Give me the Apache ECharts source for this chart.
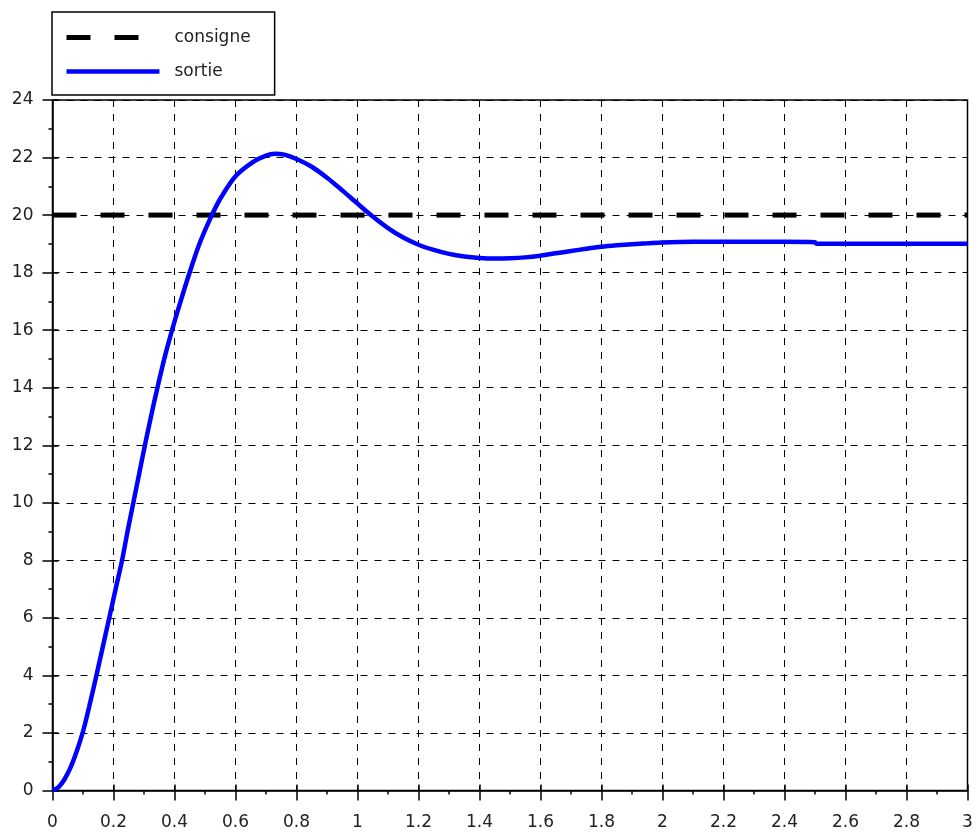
<!DOCTYPE html>
<html>
<head>
<meta charset="utf-8">
<script src="https://cdn.jsdelivr.net/npm/echarts@6/dist/echarts.min.js"></script>
<style>
html,body{margin:0;padding:0;background:#fff;}
#chart{width:976px;height:833px;}
</style>
</head>
<body>
<div id="chart"></div>
<script>
// ---- data ----
const xMin = 0, xMax = 3, xStep = 0.2;
const yMin = 0, yMax = 24, yStep = 2;
const seriesNames = ['consigne', 'sortie'];

const consigneT = [0, 3];
const consigneValues = [20, 20];

const sortieT = [0, 0.02, 0.04, 0.06, 0.08, 0.1, 0.12, 0.144, 0.165, 0.186, 0.207, 0.228, 0.246, 0.265, 0.284, 0.303, 0.323, 0.344, 0.37, 0.396, 0.42, 0.448, 0.48, 0.516, 0.549, 0.6, 0.658, 0.7, 0.729, 0.76, 0.8, 0.85, 0.9, 0.95, 1.0, 1.05, 1.1, 1.15, 1.2, 1.25, 1.3, 1.35, 1.4, 1.45, 1.5, 1.55, 1.6, 1.65, 1.7, 1.75, 1.8, 1.85, 1.9, 1.95, 2.0, 2.1, 2.2, 2.3, 2.4, 2.5, 2.505, 2.7, 2.9, 3.0];
const sortieValues = [0, 0.12, 0.4, 0.82, 1.38, 2.05, 2.9, 4.0, 5.0, 6.0, 7.0, 8.0, 9.0, 10.0, 11.0, 12.0, 13.0, 14.0, 15.15, 16.15, 17.0, 17.95, 18.95, 19.85, 20.55, 21.35, 21.85, 22.07, 22.13, 22.1, 21.95, 21.68, 21.3, 20.86, 20.4, 19.95, 19.55, 19.22, 18.97, 18.79, 18.65, 18.56, 18.51, 18.49, 18.5, 18.53, 18.59, 18.67, 18.75, 18.83, 18.9, 18.95, 18.99, 19.02, 19.05, 19.07, 19.07, 19.07, 19.07, 19.06, 19.0, 19.0, 19.0, 19.0];

// ---- build ----
const font = 'DejaVu Sans';
const pair = (xs, ys) => xs.map((x, i) => [x, ys[i]]);

const mainX = {
  type: 'value', position: 'bottom', min: xMin, max: xMax, interval: xStep,
  axisLine: {show: true, onZero: false, lineStyle: {color: '#000', width: 1.5}},
  axisTick: {show: true, length: 10, lineStyle: {color: '#000', width: 1.5}},
  minorTick: {show: true, splitNumber: 2, length: 4, lineStyle: {color: '#000', width: 1.5}},
  splitLine: {show: true, lineStyle: {color: '#000', width: 1, type: [7, 7]}},
  axisLabel: {margin: 24, fontFamily: font, fontSize: 17, color: '#222'}
};
const innerX = {
  type: 'value', position: 'bottom', min: xMin, max: xMax, interval: xStep,
  axisLine: {show: false},
  axisTick: {show: true, inside: true, length: 6, lineStyle: {color: '#000', width: 1.5}},
  axisLabel: {show: false}, splitLine: {show: false}
};
const mainY = {
  type: 'value', position: 'left', min: yMin, max: yMax, interval: yStep,
  axisLine: {show: true, onZero: false, lineStyle: {color: '#000', width: 1.5}},
  axisTick: {show: true, length: 10, lineStyle: {color: '#000', width: 1.5}},
  minorTick: {show: true, splitNumber: 2, length: 4, lineStyle: {color: '#000', width: 1.5}},
  splitLine: {show: true, lineStyle: {color: '#000', width: 1, type: [7, 7]}},
  axisLabel: {margin: 19, fontFamily: font, fontSize: 17, color: '#222'}
};
const innerY = {
  type: 'value', position: 'left', min: yMin, max: yMax, interval: yStep,
  axisLine: {show: false},
  axisTick: {show: true, inside: true, length: 6, lineStyle: {color: '#000', width: 1.5}},
  axisLabel: {show: false}, splitLine: {show: false}
};

const chart = echarts.init(document.getElementById('chart'), null, {renderer: 'canvas'});
chart.setOption({
  backgroundColor: '#fff',
  animation: false,
  grid: {left: 52.5, right: 8.5, top: 100, bottom: 42.5, show: true, borderColor: '#000', borderWidth: 1.5, backgroundColor: 'transparent'},
  legend: {
    left: 52, top: 12, orient: 'vertical',
    itemWidth: 93, itemHeight: 14, itemGap: 17,
    padding: [17, 24, 15, 12],
    borderColor: '#000', borderWidth: 1.5, backgroundColor: '#fff',
    textStyle: {fontFamily: font, fontSize: 17, color: '#222', padding: [0, 0, 0, 10]},
    data: [
      {name: seriesNames[0], itemStyle: {opacity: 0}, lineStyle: {color: '#000', width: 5, type: [24, 24]}},
      {name: seriesNames[1], itemStyle: {opacity: 0}, lineStyle: {color: '#0000ff', width: 4.5, type: 'solid'}}
    ]
  },
  xAxis: [mainX, innerX],
  yAxis: [mainY, innerY],
  series: [
    {
      name: seriesNames[0], type: 'line', xAxisIndex: 0, yAxisIndex: 0,
      data: pair(consigneT, consigneValues), showSymbol: false, symbol: 'none',
      lineStyle: {color: '#000', width: 5, type: [24, 24]}, itemStyle: {color: '#000'}
    },
    {
      name: seriesNames[1], type: 'line', xAxisIndex: 0, yAxisIndex: 0,
      data: pair(sortieT, sortieValues), showSymbol: false, symbol: 'none',
      smooth: 0.3,
      lineStyle: {color: '#0000ff', width: 4.5}, itemStyle: {color: '#0000ff'}
    }
  ]
});
</script>
</body>
</html>
